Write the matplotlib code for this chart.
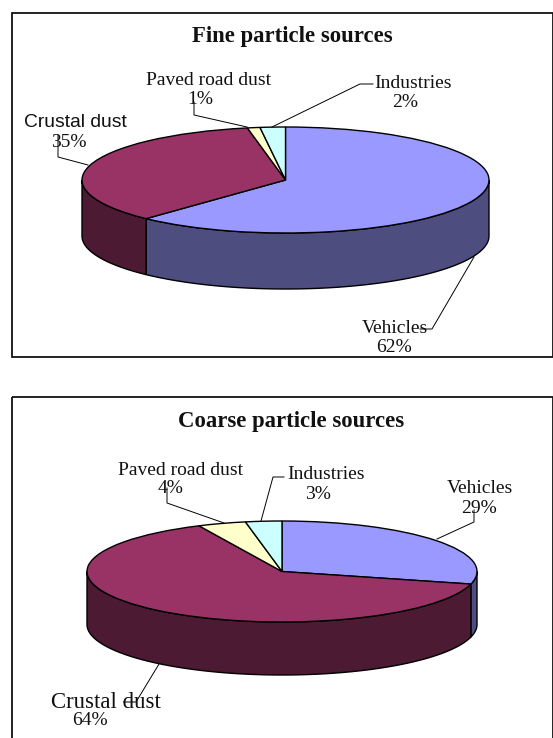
import numpy as np
import matplotlib
matplotlib.use("Agg")
import matplotlib.pyplot as plt
from matplotlib.patches import Rectangle

W, H = 553, 738

sources = ["Vehicles", "Crustal dust", "Paved road dust", "Industries"]
fine_values = [62, 35, 1, 2]
coarse_values = [29, 64, 4, 3]

top_colors = ["#9999FF", "#993366", "#FFFFCC", "#CCFFFF"]
side_colors = ["#4D4D80", "#4D1A33", "#808066", "#668080"]

SERIF = "Liberation Serif"
SANS = "Liberation Sans"

fig = plt.figure(figsize=(W / 100, H / 100), dpi=100, facecolor="white")

# overlay in pixel coords for frames, labels and leader lines
page = fig.add_axes([0, 0, 1, 1], zorder=3)
page.set_xlim(0, W)
page.set_ylim(H, 0)
page.axis("off")
page.patch.set_alpha(0)


def draw_pie(values, cx, top, a, b, depth):
    ax = fig.add_axes([(cx - a) / W, 1 - (top + 2 * b + depth) / H, 2 * a / W, (2 * b + depth) / H], zorder=2)
    d = depth / b
    ax.pie(values, colors=top_colors, startangle=90, counterclock=False, radius=1,
           wedgeprops=dict(edgecolor="black", linewidth=1.0, clip_on=False))
    ax.set_aspect("auto")
    ax.set_xlim(-1, 1)
    ax.set_ylim(-1 - d, 1)

    # side wall, only the front half of the rim shows
    start = 90.0
    total = sum(values)
    for v, col in zip(values, side_colors):
        end = start - 360.0 * v / total
        lo, hi = max(end, -180.0), min(start, 0.0)
        if lo < hi:
            t = np.radians(np.linspace(hi, lo, 120))
            xs = np.cos(t)
            ys = np.sin(t)
            ax.fill(np.r_[xs, xs[::-1]], np.r_[ys, ys[::-1] - d], facecolor=col, edgecolor="black",
                    linewidth=1.0, zorder=0, clip_on=False)
        start = end


def frame(y0, y1):
    page.add_patch(Rectangle((12, y0), 541, y1 - y0, facecolor="none", edgecolor="#111111", linewidth=1.3, clip_on=False))


def leader(xs, ys):
    page.plot(xs, ys, color="black", linewidth=0.7, solid_joinstyle="miter")


def label(x, y, s, size=14, family=SERIF, weight="normal"):
    # va=center sits a little high for these fonts
    page.text(x, y + 1.5, s, ha="center", va="center", fontsize=size, family=family, weight=weight, color="#111111")


# top panel
frame(13, 357)
draw_pie(fine_values, 285.5, 127, 203.5, 53, 56)
label(292, 35, "Fine particle sources", size=16.4, weight="bold")
label(209, 79, sources[2])
label(200, 98, f"{fine_values[2]}%")
label(413, 82, sources[3])
label(405, 101, f"{fine_values[3]}%")
label(75, 121, sources[1], size=13.9, family=SANS)
label(69, 141, f"{fine_values[1]}%")
label(394.5, 327, sources[0])
label(394, 346, f"{fine_values[0]}%")
leader([272, 360, 373], [127, 84, 84])
leader([247, 194, 194], [127, 115, 102])
leader([88, 58, 58], [165, 157, 135])
leader([474, 432, 420], [257, 329, 329])

# bottom panel
frame(397, 745)
draw_pie(coarse_values, 282, 521, 195, 50.5, 53)
label(291.5, 420, "Coarse particle sources", size=16.4, weight="bold")
label(181, 469, sources[2])
label(171, 487, f"{coarse_values[2]}%")
label(326, 473, sources[3])
label(318, 493, f"{coarse_values[3]}%")
label(480, 487, sources[0])
label(479, 507, f"{coarse_values[0]}%")
label(105.5, 701, sources[1], size=16.4)
label(90, 719, f"{coarse_values[1]}%")
leader([261, 273, 284], [521, 477, 477])
leader([224, 167, 167], [523, 503, 488])
leader([437, 474, 474], [539, 522, 510])
leader([159, 136, 123.5], [664, 702, 702])

fig.savefig("out.png", dpi=100)
